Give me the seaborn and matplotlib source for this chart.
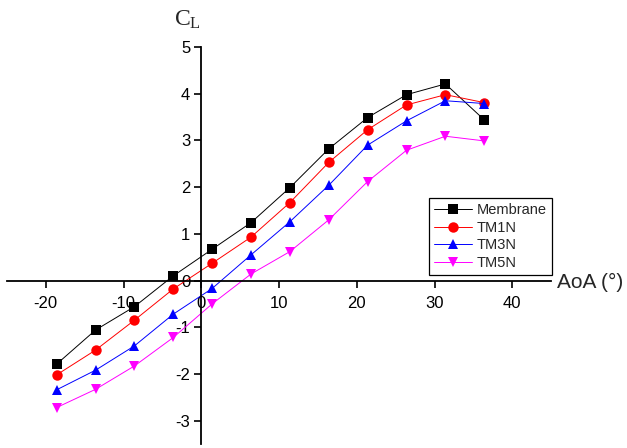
import numpy as np
import pandas as pd
import matplotlib
matplotlib.use('Agg')
from matplotlib import pyplot as plt
import seaborn as sns

sns.set_style('white')
plt.rcParams['font.family'] = ['Liberation Sans', 'DejaVu Sans']
plt.rcParams['axes.unicode_minus'] = False

# angle of attack (deg)
aoa = [-18.6, -13.6, -8.6, -3.6, 1.4, 6.4, 11.4, 16.4, 21.4, 26.4, 31.4, 36.4]

# lift coefficient
cl_membrane = [-1.79, -1.06, -0.56, 0.10, 0.67, 1.24, 1.99, 2.82, 3.49, 3.98, 4.21, 3.44]
cl_tm1n = [-2.02, -1.49, -0.85, -0.18, 0.37, 0.93, 1.67, 2.53, 3.23, 3.76, 3.98, 3.81]
cl_tm3n = [-2.34, -1.92, -1.40, -0.72, -0.17, 0.55, 1.26, 2.04, 2.90, 3.42, 3.85, 3.79]
cl_tm5n = [-2.72, -2.33, -1.83, -1.22, -0.50, 0.14, 0.62, 1.30, 2.12, 2.79, 3.09, 2.99]

names = ['Membrane', 'TM1N', 'TM3N', 'TM5N']
colors = {'Membrane': 'black', 'TM1N': '#ff0000', 'TM3N': '#0000ff', 'TM5N': '#ff00ff'}
marks = {'Membrane': 's', 'TM1N': 'o', 'TM3N': '^', 'TM5N': 'v'}

df = pd.concat([
    pd.DataFrame({'AoA': aoa, 'CL': cl_membrane, 'case': 'Membrane'}),
    pd.DataFrame({'AoA': aoa, 'CL': cl_tm1n, 'case': 'TM1N'}),
    pd.DataFrame({'AoA': aoa, 'CL': cl_tm3n, 'case': 'TM3N'}),
    pd.DataFrame({'AoA': aoa, 'CL': cl_tm5n, 'case': 'TM5N'}),
])

fig = plt.figure(figsize=(6.27, 4.48), dpi=100)
ax = fig.add_axes([0.011, 0.009, 0.868, 0.886])

sns.lineplot(data=df, x='AoA', y='CL', hue='case', style='case', hue_order=names,
             style_order=names, palette=colors, markers=marks, dashes=False,
             linewidth=0.7, markersize=7.5, markeredgewidth=0, ax=ax, sort=False)

ax.set_xlim(-25, 45)
ax.set_ylim(-3.5, 5)
ax.set_xlabel('')
ax.set_ylabel('')

# axes through the origin
ax.spines['left'].set_position(('data', 0))
ax.spines['bottom'].set_position(('data', 0))
ax.spines['top'].set_visible(False)
ax.spines['right'].set_visible(False)
for s in ['left', 'bottom']:
    ax.spines[s].set_linewidth(1.3)
    ax.spines[s].set_color('black')

ax.set_xticks([-20, -10, 0, 10, 20, 30, 40])
ax.set_xticks(np.arange(-25, 46, 5), minor=True)
ax.set_yticks([-3, -2, -1, 0, 1, 2, 3, 4, 5])
ax.set_yticks(np.arange(-3.5, 5.01, 0.5), minor=True)
ax.tick_params(which='both', direction='out', width=1.2, labelsize=12, colors='black')
ax.tick_params(which='major', length=5)
ax.tick_params(which='minor', length=3)
ax.tick_params(axis='x', bottom=True, pad=6)
ax.tick_params(axis='y', left=True, pad=3)

ax.text(0, 5.35, r'$\mathregular{C_L}$', fontsize=17, family='Liberation Serif',
        ha='right', va='bottom', transform=ax.transData)
ax.text(45.7, -0.05, 'AoA (°)', fontsize=15, ha='left', va='center')

handles, labels = ax.get_legend_handles_labels()
leg = ax.legend(handles, labels, loc='upper left', bbox_to_anchor=(0.776, 0.62),
                fontsize=10.5, frameon=True, fancybox=False, edgecolor='black',
                framealpha=1, handlelength=2.6, borderpad=0.35, labelspacing=0.25,
                handletextpad=0.3, borderaxespad=0)
leg.get_frame().set_linewidth(0.9)

fig.savefig('out.png', dpi=100)
